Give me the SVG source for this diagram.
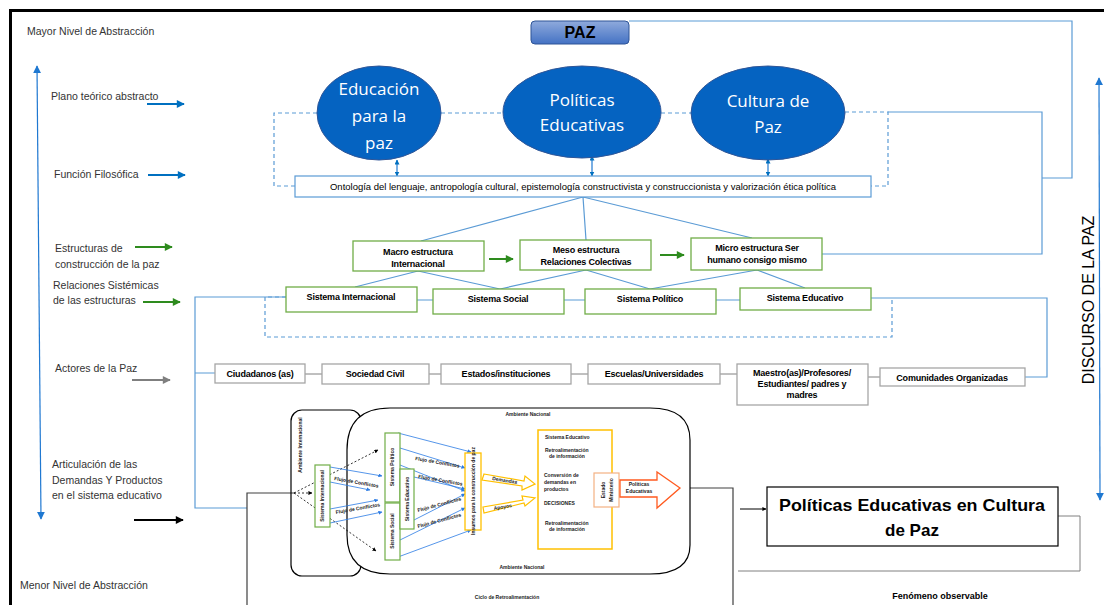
<svg xmlns="http://www.w3.org/2000/svg" width="1104" height="605" viewBox="0 0 1104 605">
<defs>
<style>
text{font-family:"Liberation Sans",Arial,sans-serif;}
.lbl{font-size:10.5px;fill:#333;}
.bx{fill:#fff;stroke:#70AD47;stroke-width:1.3;}
.gb{fill:#fff;stroke:#A6A6A6;stroke-width:1.3;}
.bt{font-size:9px;font-weight:bold;fill:#000;text-anchor:middle;letter-spacing:-0.2px;}
.bl{fill:none;stroke:#5B9BD5;stroke-width:1.2;}
.bd{fill:none;stroke:#5B9BD5;stroke-width:1.2;stroke-dasharray:4 3;}
.ell{fill:#0563C1;stroke:#2F5597;stroke-width:1;}
.et{font-family:"Open Sans","Liberation Sans",sans-serif;font-size:17px;fill:#fff;text-anchor:middle;}
.gl{fill:none;stroke:#808080;stroke-width:1;}
.ib{fill:none;stroke:#2B7BE4;stroke-width:0.8;}
.tiny{font-size:5px;font-weight:bold;fill:#222;}
.ig{fill:#fff;stroke:#70AD47;stroke-width:1.2;}
.dot{stroke:#000;stroke-width:0.8;stroke-dasharray:2 2;}
</style>
<marker id="ab" viewBox="0 0 10 10" refX="9" refY="5" markerWidth="5" markerHeight="5" orient="auto-start-reverse" markerUnits="userSpaceOnUse"><path d="M0,0 L10,5 L0,10 z" fill="#0070C0"/></marker>
<marker id="abig" viewBox="0 0 10 10" refX="9" refY="5" markerWidth="8" markerHeight="8" orient="auto-start-reverse" markerUnits="userSpaceOnUse"><path d="M0,0 L10,5 L0,10 z" fill="#1F78D1"/></marker>
<marker id="abl" viewBox="0 0 10 10" refX="9" refY="5" markerWidth="9" markerHeight="8" orient="auto" markerUnits="userSpaceOnUse"><path d="M0,0 L10,5 L0,10 z" fill="#0070C0"/></marker>
<marker id="ag" viewBox="0 0 10 10" refX="9" refY="5" markerWidth="9" markerHeight="8" orient="auto" markerUnits="userSpaceOnUse"><path d="M0,0 L10,5 L0,10 z" fill="#2E8B1E"/></marker>
<marker id="agr" viewBox="0 0 10 10" refX="9" refY="5" markerWidth="9" markerHeight="8" orient="auto" markerUnits="userSpaceOnUse"><path d="M0,0 L10,5 L0,10 z" fill="#7F7F7F"/></marker>
<marker id="ak" viewBox="0 0 10 10" refX="9" refY="5" markerWidth="9" markerHeight="8" orient="auto" markerUnits="userSpaceOnUse"><path d="M0,0 L10,5 L0,10 z" fill="#000"/></marker>
<marker id="aks" viewBox="0 0 10 10" refX="9" refY="5" markerWidth="4" markerHeight="4" orient="auto" markerUnits="userSpaceOnUse"><path d="M0,0 L10,5 L0,10 z" fill="#000"/></marker>
<marker id="aib" viewBox="0 0 10 10" refX="9" refY="5" markerWidth="4" markerHeight="4" orient="auto" markerUnits="userSpaceOnUse"><path d="M0,0 L10,5 L0,10 z" fill="#2B7BE4"/></marker>
<linearGradient id="pazg" x1="0" y1="0" x2="0" y2="1"><stop offset="0" stop-color="#8FAADC"/><stop offset="1" stop-color="#4472C4"/></linearGradient>
</defs>

<rect width="1104" height="605" fill="#fff"/>
<path d="M10.5,605 V10.5 H1104" fill="none" stroke="#000" stroke-width="3"/>

<!-- left side scale -->
<g id="scale">
<text class="lbl" x="27" y="35" font-size="10">Mayor Nivel de Abstracción</text>
<line x1="37" y1="66" x2="41" y2="519" stroke="#1F78D1" stroke-width="1.2" marker-start="url(#abig)" marker-end="url(#abig)"/>
<text class="lbl" x="20" y="589" font-size="10">Menor Nivel de Abstracción</text>
<text class="lbl" x="51" y="100">Plano teórico abstracto</text>
<line x1="147" y1="104" x2="184" y2="104" stroke="#0070C0" stroke-width="2.2" marker-end="url(#abl)"/>
<text class="lbl" x="54" y="178">Función  Filosófica</text>
<line x1="148" y1="175" x2="185" y2="175" stroke="#0070C0" stroke-width="2.2" marker-end="url(#abl)"/>
<text class="lbl" x="55" y="252">Estructuras de</text>
<text class="lbl" x="55" y="268">construcción de la paz</text>
<line x1="135" y1="247" x2="172" y2="247" stroke="#2E8B1E" stroke-width="2.2" marker-end="url(#ag)"/>
<text class="lbl" x="53" y="289">Relaciones Sistémicas</text>
<text class="lbl" x="53" y="304">de las estructuras</text>
<line x1="143" y1="302" x2="180" y2="302" stroke="#2E8B1E" stroke-width="2.2" marker-end="url(#ag)"/>
<text class="lbl" x="55" y="372">Actores de la Paz</text>
<line x1="132" y1="380" x2="170" y2="380" stroke="#7F7F7F" stroke-width="2.2" marker-end="url(#agr)"/>
<text class="lbl" x="52" y="468">Articulación de las</text>
<text class="lbl" x="52" y="484">Demandas Y Productos</text>
<text class="lbl" x="52" y="499">en el sistema educativo</text>
<line x1="134" y1="520" x2="183" y2="520" stroke="#000" stroke-width="2.2" marker-end="url(#ak)"/>
</g>

<!-- connectors -->
<g id="connectors">
<path class="bd" d="M317,113 H274 V186 H295"/>
<path class="bd" d="M441,113 H503"/>
<path class="bd" d="M661,113 H692"/>
<path class="bd" d="M845,112 H888 V186 H871"/>
<path class="bl" d="M888,112 H1042 V254 H822"/>
<path class="bl" d="M1042,178 H1072 V21 H629"/>
<line x1="397" y1="160" x2="397" y2="176" stroke="#1F78D1" stroke-width="1.2" marker-start="url(#ab)" marker-end="url(#ab)"/>
<line x1="592" y1="156" x2="592" y2="176" stroke="#1F78D1" stroke-width="1.2" marker-start="url(#ab)" marker-end="url(#ab)"/>
<line x1="768" y1="159" x2="768" y2="176" stroke="#1F78D1" stroke-width="1.2" marker-start="url(#ab)" marker-end="url(#ab)"/>
<path class="bl" d="M583,197 L421,241 M583,197 L586,240 M583,197 L752,238"/>
<path class="bl" d="M418,271 L355,287 M418,271 L500,289 M586,270 L500,289 M586,270 L650,289 M757,270 L650,289 M757,270 L805,288"/>
<line x1="489" y1="259" x2="513" y2="259" stroke="#2E8B1E" stroke-width="2" marker-end="url(#ag)"/>
<line x1="660" y1="255" x2="684" y2="255" stroke="#2E8B1E" stroke-width="2" marker-end="url(#ag)"/>
<path class="bl" d="M417,300 H433 M564,300 H585 M716,300 H740"/>
<path class="bd" d="M286,297 H265 V337 H892 V298"/>
<path class="bl" d="M871,298 H1047 V377 H1025"/>
<path class="bl" d="M286,297 H195 V508 H247 M195,373 H215"/>
<path class="gl" d="M305,374 H322 M429,374 H441 M571,374 H588 M720,374 H737 M868,377 H880"/>
<path d="M247,605 V493 H294" fill="none" stroke="#404040" stroke-width="1.2"/>
<path d="M680,488 H733 V605" fill="none" stroke="#404040" stroke-width="1.2"/>
<line x1="740" y1="509" x2="766" y2="509" stroke="#000" stroke-width="1" marker-end="url(#aks)"/>
<path class="gl" d="M1058,516 H1080 V571 H738"/>
<line x1="1099" y1="78" x2="1100" y2="500" stroke="#1F78D1" stroke-width="1.2" marker-start="url(#abig)" marker-end="url(#abig)"/>
</g>

<!-- top -->
<g id="paz">
<rect x="531" y="21" width="98" height="23" rx="4" fill="url(#pazg)" stroke="#2F5597" stroke-width="1"/>
<text x="580" y="38" font-size="16" font-weight="bold" text-anchor="middle" fill="#000">PAZ</text>
</g>
<g id="educacion">
<ellipse class="ell" cx="379" cy="113" rx="62" ry="47"/>
<text class="et" x="379" y="95">Educación</text>
<text class="et" x="379" y="122">para la</text>
<text class="et" x="379" y="149">paz</text>
</g>
<g id="politicas">
<ellipse class="ell" cx="582" cy="112" rx="79" ry="46"/>
<text class="et" x="582" y="106">Políticas</text>
<text class="et" x="582" y="131">Educativas</text>
</g>
<g id="cultura">
<ellipse class="ell" cx="768" cy="113" rx="77" ry="47"/>
<text class="et" x="768" y="107">Cultura de</text>
<text class="et" x="768" y="133">Paz</text>
</g>
<g id="ontologia">
<rect x="295" y="176" width="576" height="21" fill="#fff" stroke="#5B9BD5" stroke-width="1.2"/>
<text x="583" y="190" font-size="9" text-anchor="middle" textLength="506" lengthAdjust="spacingAndGlyphs" fill="#000">Ontología  del lenguaje,  antropología cultural,  epistemología  constructivista y construccionista y valorización ética política</text>
</g>

<!-- structures -->
<g id="macro"><rect class="bx" x="353" y="241" width="131" height="30"/><text class="bt" x="418" y="255">Macro estructura</text><text class="bt" x="418" y="267">Internacional</text></g>
<g id="meso"><rect class="bx" x="520" y="240" width="131" height="30"/><text class="bt" x="586" y="253">Meso estructura</text><text class="bt" x="586" y="265">Relaciones Colectivas</text></g>
<g id="micro"><rect class="bx" x="691" y="238" width="131" height="32"/><text class="bt" x="757" y="251">Micro estructura Ser</text><text class="bt" x="757" y="263">humano consigo mismo</text></g>

<g id="sis-int"><rect class="bx" x="286" y="287" width="131" height="25"/><text class="bt" x="351" y="300">Sistema Internacional</text></g>
<g id="sis-soc"><rect class="bx" x="433" y="289" width="131" height="25"/><text class="bt" x="498" y="302">Sistema Social</text></g>
<g id="sis-pol"><rect class="bx" x="585" y="289" width="131" height="25"/><text class="bt" x="650" y="302">Sistema Político</text></g>
<g id="sis-edu"><rect class="bx" x="740" y="288" width="131" height="22"/><text class="bt" x="805" y="301">Sistema Educativo</text></g>

<!-- actors -->
<g id="ciudadanos"><rect class="gb" x="215" y="364" width="90" height="19"/><text class="bt" x="260" y="377">Ciudadanos (as)</text></g>
<g id="sociedad"><rect class="gb" x="322" y="364" width="107" height="20"/><text class="bt" x="375" y="377">Sociedad Civil</text></g>
<g id="estados"><rect class="gb" x="441" y="364" width="130" height="20"/><text class="bt" x="506" y="377">Estados/instituciones</text></g>
<g id="escuelas"><rect class="gb" x="588" y="364" width="132" height="20"/><text class="bt" x="654" y="377">Escuelas/Universidades</text></g>
<g id="maestros"><rect class="gb" x="737" y="364" width="131" height="41"/><text class="bt" x="802" y="376">Maestro(as)/Profesores/</text><text class="bt" x="802" y="387">Estudiantes/ padres y</text><text class="bt" x="802" y="398">madres</text></g>
<g id="comunidades"><rect class="gb" x="880" y="368" width="145" height="18"/><text class="bt" x="952" y="381">Comunidades Organizadas</text></g>

<!-- inner system diagram -->
<g id="ambiente-internacional">
<rect x="291" y="410" width="70" height="166" rx="11" fill="none" stroke="#000" stroke-width="1.2"/>
<text class="tiny" transform="translate(302,445) rotate(-90)" text-anchor="middle" fill="#7F3F00">Ambiente Internacional</text>
</g>
<g id="ambiente-nacional">
<path d="M390,408 H650 Q690,408 690,440 V545 Q690,574 650,574 H390 Q347,574 347,535 V450 Q347,408 390,408 Z" fill="#fff" stroke="#000" stroke-width="1.2"/>
<text class="tiny" x="528" y="416" text-anchor="middle">Ambiente Nacional</text>
<text class="tiny" x="522" y="569" text-anchor="middle">Ambiente Nacional</text>
</g>
<g id="inner-flows">
<line class="dot" x1="294" y1="493" x2="378" y2="450" marker-end="url(#aks)"/>
<line class="dot" x1="294" y1="493" x2="312" y2="493" marker-end="url(#aks)"/>
<line class="dot" x1="294" y1="493" x2="376" y2="551" marker-end="url(#aks)"/>
<line class="ib" x1="330" y1="467" x2="382" y2="476" marker-end="url(#aib)"/>
<line class="ib" x1="330" y1="482" x2="370" y2="490" marker-end="url(#aib)"/>
<line class="ib" x1="330" y1="509" x2="378" y2="500" marker-end="url(#aib)"/>
<line class="ib" x1="330" y1="523" x2="382" y2="512" marker-end="url(#aib)"/>
<line class="ib" x1="398" y1="433" x2="471" y2="452" marker-end="url(#aib)"/>
<line class="ib" x1="400" y1="448" x2="465" y2="468" marker-end="url(#aib)"/>
<line class="ib" x1="414" y1="477" x2="465" y2="489" marker-end="url(#aib)"/>
<line class="ib" x1="400" y1="465" x2="465" y2="491" marker-end="url(#aib)"/>
<line class="ib" x1="414" y1="520" x2="465" y2="494" marker-end="url(#aib)"/>
<line class="ib" x1="400" y1="540" x2="465" y2="508" marker-end="url(#aib)"/>
<line class="ib" x1="398" y1="557" x2="471" y2="530" marker-end="url(#aib)"/>
<text class="tiny" font-size="4.5" transform="translate(334,480) rotate(10)">Flujo de Conflictos</text>
<text class="tiny" font-size="4.5" transform="translate(336,514) rotate(-10)">Flujo de Conflictos</text>
<text class="tiny" font-size="4.5" transform="translate(415,460) rotate(10)">Flujo de Conflictos</text>
<text class="tiny" font-size="4.5" transform="translate(418,478) rotate(10)">Flujo de Conflictos</text>
<text class="tiny" font-size="4.5" transform="translate(418,512) rotate(-15)">Flujo de Conflictos</text>
<text class="tiny" font-size="4.5" transform="translate(418,528) rotate(-15)">Flujo de Conflictos</text>
</g>
<g id="in-sis-int"><rect class="ig" x="315" y="465" width="15" height="62"/><text class="tiny" transform="translate(324,496) rotate(-90)" text-anchor="middle">Sistema Internacional</text></g>
<g id="in-sis-pol"><rect class="ig" x="385" y="433" width="15" height="69"/><text class="tiny" transform="translate(394,467) rotate(-90)" text-anchor="middle">Sistema Político</text></g>
<g id="in-sis-soc"><rect class="ig" x="385" y="503" width="15" height="57"/><text class="tiny" transform="translate(394,531) rotate(-90)" text-anchor="middle">Sistema Social</text></g>
<g id="in-sis-edu"><rect class="ig" x="400" y="469" width="14" height="60"/><text class="tiny" transform="translate(409,499) rotate(-90)" text-anchor="middle">Sistema Educativo</text></g>
<g id="insumos"><rect x="465" y="453" width="16" height="77" fill="#fff" stroke="#FFC000" stroke-width="1.3"/><text class="tiny" font-size="4.6" transform="translate(475,491) rotate(-90)" text-anchor="middle">Insumos para la construcción de paz</text></g>
<g id="demandas">
<path d="M484,474 L524,481 L525,476 L535,484 L522,490 L522,486 L482,480 Z" fill="#fff" stroke="#FFC000" stroke-width="1.2"/>
<text class="tiny" transform="translate(492,480) rotate(9)">Demandas</text>
</g>
<g id="apoyos">
<path d="M483,507 L523,500 L522,496 L535,498 L525,506 L524,503 L484,513 Z" fill="#fff" stroke="#FFC000" stroke-width="1.2"/>
<text class="tiny" transform="translate(494,510) rotate(-9)">Apoyos</text>
</g>
<g id="sistema-educativo-inner">
<rect x="538" y="430" width="74" height="119" fill="#fff" stroke="#FFC000" stroke-width="1.5"/>
<text class="tiny" x="545" y="439">Sistema Educativo</text>
<text class="tiny" x="545" y="452">Retroalimentación</text>
<text class="tiny" x="549" y="458">de información</text>
<text class="tiny" x="544" y="477">Conversión de</text>
<text class="tiny" x="544" y="484">demandas en</text>
<text class="tiny" x="544" y="491">productos</text>
<text class="tiny" x="544" y="505">DECISIONES</text>
<text class="tiny" x="545" y="525">Retroalimentación</text>
<text class="tiny" x="549" y="531">de información</text>
</g>
<g id="estado">
<rect x="594" y="473" width="25" height="34" fill="#fff" stroke="#F4B183" stroke-width="1.2"/>
<text class="tiny" transform="translate(605,490) rotate(-90)" text-anchor="middle">Estado</text>
<text class="tiny" transform="translate(613,490) rotate(-90)" text-anchor="middle">Ministerio</text>
</g>
<g id="politicas-out">
<path d="M620,480 H657 V472 L680,488 L657,508 V497 H620 Z" fill="#fff" stroke="#FF5A1F" stroke-width="1.3"/>
<text class="tiny" x="639" y="486" text-anchor="middle">Políticas</text>
<text class="tiny" x="639" y="493" text-anchor="middle">Educativas</text>
</g>
<text class="tiny" x="507" y="599" text-anchor="middle" font-weight="normal">Ciclo de Retroalimentación</text>

<g id="resultado">
<rect x="767" y="487" width="291" height="59" fill="#fff" stroke="#000" stroke-width="1.2"/>
<text x="912" y="511" font-size="17" font-weight="bold" text-anchor="middle" textLength="266" lengthAdjust="spacingAndGlyphs" fill="#000">Políticas Educativas en Cultura</text>
<text x="912" y="536" font-size="17" font-weight="bold" text-anchor="middle" fill="#000">de Paz</text>
</g>
<text x="940" y="599" font-size="9" font-weight="bold" text-anchor="middle" fill="#000">Fenómeno observable</text>

<text transform="translate(1094,300) rotate(-90)" font-family="'Open Sans','Liberation Sans',sans-serif" font-size="16" text-anchor="middle" fill="#000">DISCURSO DE LA PAZ</text>
</svg>
